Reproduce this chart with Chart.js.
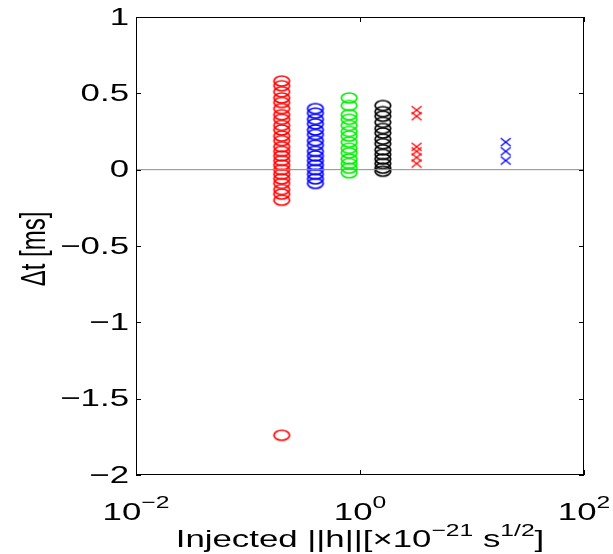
<!DOCTYPE html>
<html>
<head>
<meta charset="utf-8">
<script src="https://cdn.jsdelivr.net/npm/chart.js@4.4.1/dist/chart.umd.min.js"></script>
<style>
  html, body { margin: 0; padding: 0; background: #ffffff; }
  #wrap { width: 613px; height: 554px; }
</style>
</head>
<body>
<div id="wrap"><canvas id="chart" width="613" height="554"></canvas></div>
<script>
// Injected signal amplitude (x) for each group of injections
const amplitudeRedCircles = 0.2;
const amplitudeBlueCircles = 0.4;
const amplitudeGreenCircles = 0.8;
const amplitudeBlackCircles = 1.6;
const amplitudeRedCrosses = 3.2;
const amplitudeBlueCrosses = 20;

// Timing offsets Δt [ms] for each group
const redCircleDt = [0.58, 0.55, 0.51, 0.47, 0.44, 0.40, 0.36, 0.33, 0.29, 0.26, 0.22, 0.19, 0.15, 0.12, 0.09, 0.06, 0.03, 0.00, -0.03, -0.06, -0.09, -0.13, -0.16, -0.20, -1.74];
const blueCircleDt = [0.40, 0.37, 0.33, 0.30, 0.26, 0.23, 0.19, 0.16, 0.12, 0.09, 0.06, 0.03, 0.00, -0.03, -0.06, -0.09];
const greenCircleDt = [0.47, 0.42, 0.36, 0.33, 0.29, 0.25, 0.22, 0.18, 0.14, 0.11, 0.07, 0.04, 0.01, -0.02];
const blackCircleDt = [0.42, 0.38, 0.35, 0.31, 0.27, 0.24, 0.20, 0.17, 0.13, 0.10, 0.07, 0.04, 0.01, -0.01];
const redCrossDt = [0.39, 0.35, 0.15, 0.12, 0.08, 0.04];
const blueCrossDt = [0.18, 0.12, 0.06];

// Axis ticks
const xTickValues = [0.01, 1, 100];
const xTickBase = ['10', '10', '10'];
const xTickExponent = ['\u22122', '0', '2'];
const yTickValues = [-2, -1.5, -1, -0.5, 0, 0.5, 1];
const yTickLabels = ['\u22122', '\u22121.5', '\u22121', '\u22120.5', '0', '0.5', '1'];

const FONT = '"Liberation Sans", Arial, Helvetica, sans-serif';
const SX = 1.45; // horizontal stretch of lettering

// Marker images: open ellipse and a small cross
function ellipseMarker(color) {
  const c = document.createElement('canvas');
  c.width = 20; c.height = 14;
  const g = c.getContext('2d');
  g.strokeStyle = color; g.lineWidth = 1.7;
  g.beginPath(); g.ellipse(10, 7, 7.8, 5, 0, 0, Math.PI * 2); g.stroke();
  return c;
}
function crossMarker(color) {
  const c = document.createElement('canvas');
  c.width = 14; c.height = 12;
  const g = c.getContext('2d');
  g.strokeStyle = color; g.lineWidth = 1.3;
  g.beginPath();
  g.moveTo(2, 2); g.lineTo(12, 10);
  g.moveTo(12, 2); g.lineTo(2, 10);
  g.stroke();
  return c;
}

function points(x, ys) { return ys.map(y => ({ x: x, y: y })); }

function group(label, x, ys, marker) {
  return { label: label, data: points(x, ys), pointStyle: marker, pointRadius: 8, showLine: false };
}

// Text helpers (stretched horizontally, superscripts supported)
function segWidth(ctx, seg) {
  ctx.font = seg.size + 'px ' + FONT;
  return ctx.measureText(seg.t).width * SX;
}
function drawSegments(ctx, segs, cx, baseline) {
  const total = segs.reduce((s, seg) => s + segWidth(ctx, seg), 0);
  let x = cx - total / 2;
  segs.forEach(seg => {
    const w = segWidth(ctx, seg);
    ctx.save();
    ctx.font = seg.size + 'px ' + FONT;
    ctx.textAlign = 'left';
    ctx.textBaseline = 'alphabetic';
    ctx.translate(x, baseline - (seg.rise || 0));
    ctx.scale(SX, 1);
    ctx.fillText(seg.t, 0, 0);
    ctx.restore();
    x += w;
  });
}

const framePlugin = {
  id: 'frame',
  afterDatasetsDraw(chart) {
    const ctx = chart.ctx;
    const a = chart.chartArea;
    const xs = chart.scales.x, ys = chart.scales.y;
    ctx.save();
    ctx.strokeStyle = '#000000';
    ctx.lineWidth = 1;
    ctx.strokeRect(Math.round(a.left) + 0.5, Math.round(a.top) + 0.5,
      Math.round(a.right - a.left) - 1, Math.round(a.bottom - a.top) - 1);
    const tl = 5;
    ctx.beginPath();
    yTickValues.forEach(v => {
      const py = Math.round(ys.getPixelForValue(v)) + 0.5;
      ctx.moveTo(a.left, py); ctx.lineTo(a.left + tl, py);
      ctx.moveTo(a.right, py); ctx.lineTo(a.right - tl, py);
    });
    xTickValues.forEach(v => {
      const px = Math.round(xs.getPixelForValue(v)) + 0.5;
      ctx.moveTo(px, a.bottom); ctx.lineTo(px, a.bottom - tl);
      ctx.moveTo(px, a.top); ctx.lineTo(px, a.top + tl);
    });
    ctx.stroke();
    ctx.restore();
  },
  afterDraw(chart) {
    const ctx = chart.ctx;
    const a = chart.chartArea;
    const xs = chart.scales.x, ys = chart.scales.y;
    ctx.save();
    ctx.fillStyle = '#000000';
    // y tick labels
    yTickValues.forEach((v, i) => {
      const py = ys.getPixelForValue(v);
      ctx.save();
      ctx.font = '24px ' + FONT;
      ctx.textAlign = 'right';
      ctx.textBaseline = 'middle';
      ctx.translate(a.left - 7, py + 1);
      ctx.scale(SX, 1);
      ctx.fillText(yTickLabels[i], 0, 0);
      ctx.restore();
    });
    // x tick labels with exponents
    xTickValues.forEach((v, i) => {
      const px = xs.getPixelForValue(v);
      drawSegments(ctx, [
        { t: xTickBase[i], size: 24 },
        { t: xTickExponent[i], size: 17, rise: 12 }
      ], px, a.bottom + 45);
    });
    // x axis title
    drawSegments(ctx, [
      { t: 'Injected ||h||[\u00d710', size: 24 },
      { t: '\u221221', size: 17, rise: 11 },
      { t: ' s', size: 24 },
      { t: '1/2', size: 17, rise: 11 },
      { t: ']', size: 24 }
    ], (a.left + a.right) / 2, a.bottom + 72);
    // y axis title
    ctx.save();
    ctx.font = '24px ' + FONT;
    ctx.textAlign = 'center';
    ctx.textBaseline = 'middle';
    ctx.translate(35, (a.top + a.bottom) / 2 + 3);
    ctx.scale(SX, 1);
    ctx.rotate(-Math.PI / 2);
    ctx.fillText('\u0394t [ms]', 0, 0);
    ctx.restore();
    ctx.restore();
  }
};

new Chart(document.getElementById('chart'), {
  type: 'scatter',
  data: {
    datasets: [
      { label: 'zero', data: [{ x: 0.01, y: 0 }, { x: 100, y: 0 }], showLine: true,
        borderColor: '#8c8c8c', borderWidth: 1, pointRadius: 0, order: -1 },
      group('0.2', amplitudeRedCircles, redCircleDt, ellipseMarker('#ff0000')),
      group('0.4', amplitudeBlueCircles, blueCircleDt, ellipseMarker('#0000ff')),
      group('0.8', amplitudeGreenCircles, greenCircleDt, ellipseMarker('#00ee00')),
      group('1.6', amplitudeBlackCircles, blackCircleDt, ellipseMarker('#000000')),
      group('3.2', amplitudeRedCrosses, redCrossDt, crossMarker('#ff0000')),
      group('20', amplitudeBlueCrosses, blueCrossDt, crossMarker('#0000ff'))
    ]
  },
  options: {
    responsive: false,
    animation: false,
    events: [],
    layout: { padding: { top: 17, right: 29, left: 0, bottom: 0 } },
    plugins: { legend: { display: false }, tooltip: { enabled: false } },
    scales: {
      x: {
        type: 'logarithmic', min: 0.01, max: 100,
        grid: { display: false, drawTicks: false },
        border: { display: false },
        ticks: { display: false },
        afterBuildTicks(scale) { scale.ticks = xTickValues.map(v => ({ value: v })); },
        afterFit(scale) { scale.height = 79; }
      },
      y: {
        type: 'linear', min: -2, max: 1,
        grid: { display: false, drawTicks: false },
        border: { display: false },
        ticks: { display: false },
        afterBuildTicks(scale) { scale.ticks = yTickValues.map(v => ({ value: v })); },
        afterFit(scale) { scale.width = 136; }
      }
    }
  },
  plugins: [framePlugin]
});
</script>
</body>
</html>
